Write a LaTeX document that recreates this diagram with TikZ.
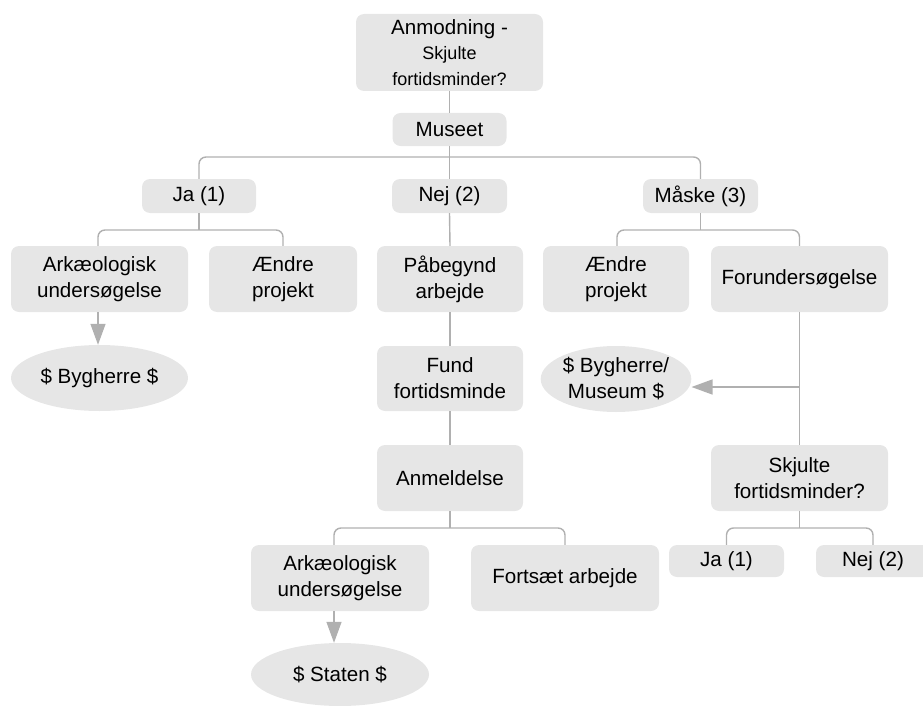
\documentclass[tikz,border=0pt]{standalone}
\usepackage{fontspec}
\setmainfont{Liberation Sans}
\usetikzlibrary{arrows.meta,shapes.geometric}
\definecolor{boxgray}{HTML}{E6E6E6}
\definecolor{linegray}{HTML}{B0B0B0}
\begin{document}
\begin{tikzpicture}[x=1pt,y=-1pt,
  every node/.style={font=\fontsize{20.6}{26}\selectfont, text=black, align=center, inner sep=0pt},
  box/.style={fill=boxgray, rounded corners=8pt},
  oval/.style={fill=boxgray, ellipse},
  conn/.style={draw=linegray, line width=1.4pt, rounded corners=7pt},
  arr/.style={draw=linegray, line width=1.4pt, -{Triangle[width=15pt,length=21pt,fill=linegray]}}
]
\useasboundingbox (0,0) rectangle (923,706);
\clip (0,0) rectangle (923,706);

% nodes
\node[box, minimum width=187pt, minimum height=77pt] (top) at (449.5,52.5)
  {Anmodning -\\[-1pt]{\fontsize{18}{24}\selectfont Skjulte}\\{\fontsize{18}{24}\selectfont fortidsminder?}};
\node[box, minimum width=114pt, minimum height=33pt] (museet) at (449.5,129.5) {Museet};

\node[box, minimum width=114pt, minimum height=34pt] (ja1) at (199,196) {Ja (1)};
\node[box, minimum width=115pt, minimum height=34pt] (nej2) at (449.5,196) {Nej (2)};
\node[box, minimum width=115pt, minimum height=34pt] (maske) at (700.5,196) {Måske (3)};

\node[box, minimum width=177pt, minimum height=66pt] (ark1) at (99.5,279) {Arkæologisk\\undersøgelse};
\node[box, minimum width=148pt, minimum height=66pt] (aendre1) at (283,279) {Ændre\\projekt};
\node[box, minimum width=146pt, minimum height=66pt] (pab) at (450,279) {Påbegynd\\arbejde};
\node[box, minimum width=146pt, minimum height=66pt] (aendre2) at (616,279) {Ændre\\projekt};
\node[box, minimum width=177pt, minimum height=66pt] (forund) at (799.5,279) {Forundersøgelse};

\node[oval, minimum width=177pt, minimum height=66pt] (byg1) at (99.5,378) {\$ Bygherre \$};
\node[box, minimum width=146pt, minimum height=65pt] (fund) at (450,378.5) {Fund\\fortidsminde};
\node[oval, minimum width=146pt, minimum height=66pt] (byg2) at (616,379) {\$ Bygherre/\\Museum \$};

\node[box, minimum width=146pt, minimum height=66pt] (anmeld) at (450,478) {Anmeldelse};
\node[box, minimum width=177pt, minimum height=66pt] (skjul) at (799.5,478) {Skjulte\\fortidsminder?};

\node[box, minimum width=178pt, minimum height=66pt] (ark2) at (340,578) {Arkæologisk\\undersøgelse};
\node[box, minimum width=188pt, minimum height=66pt] (fort) at (565,578) {Fortsæt arbejde};
\node[box, minimum width=115pt, minimum height=32pt] (ja3) at (726.5,561) {Ja (1)};
\node[box, minimum width=114pt, minimum height=32pt] (nej3) at (873,561) {Nej (2)};

\node[oval, minimum width=178pt, minimum height=63pt] (staten) at (340,674.5) {\$ Staten \$};

% junction coordinates
\coordinate (j0) at (449.5,157);
\coordinate (j1) at (199,230);
\coordinate (j2) at (700.5,230);
\coordinate (j3) at (450,528);
\coordinate (j4) at (799.5,528);
\coordinate (br) at (799.5,387);

% connectors
\draw[conn] (top.south) -- (museet.north);
\draw[conn] (museet.south) -- (nej2.north);
\draw[conn] (ja1.north) |- (j0) -| (maske.north);

\draw[conn] (ja1.south) -- (j1);
\draw[conn] ([xshift=-1.5pt]ark1.north) |- (j1) -| (aendre1.north);

\draw[conn] (maske.south) -- (j2);
\draw[conn] ([xshift=1pt]aendre2.north) |- (j2) -| (forund.north);

\draw[conn] (nej2.south) -- (pab.north);
\draw[conn] (pab.south) -- (fund.north);
\draw[conn] (fund.south) -- (anmeld.north);

\draw[conn] (anmeld.south) -- (j3);
\draw[conn] ([xshift=-6pt]ark2.north) |- (j3) -| (fort.north);

\draw[conn] (forund.south) -- (skjul.north);
\draw[conn] (skjul.south) -- (j4);
\draw[conn] (ja3.north) |- (j4) -| (nej3.north);

\draw[arr] ([xshift=-1.5pt]ark1.south) -- ([xshift=-1.5pt]byg1.north);
\draw[arr] ([xshift=-6pt]ark2.south) -- ([xshift=-6pt]staten.north);
\draw[arr] (br) -- (br -| byg2.east);
\end{tikzpicture}
\end{document}
